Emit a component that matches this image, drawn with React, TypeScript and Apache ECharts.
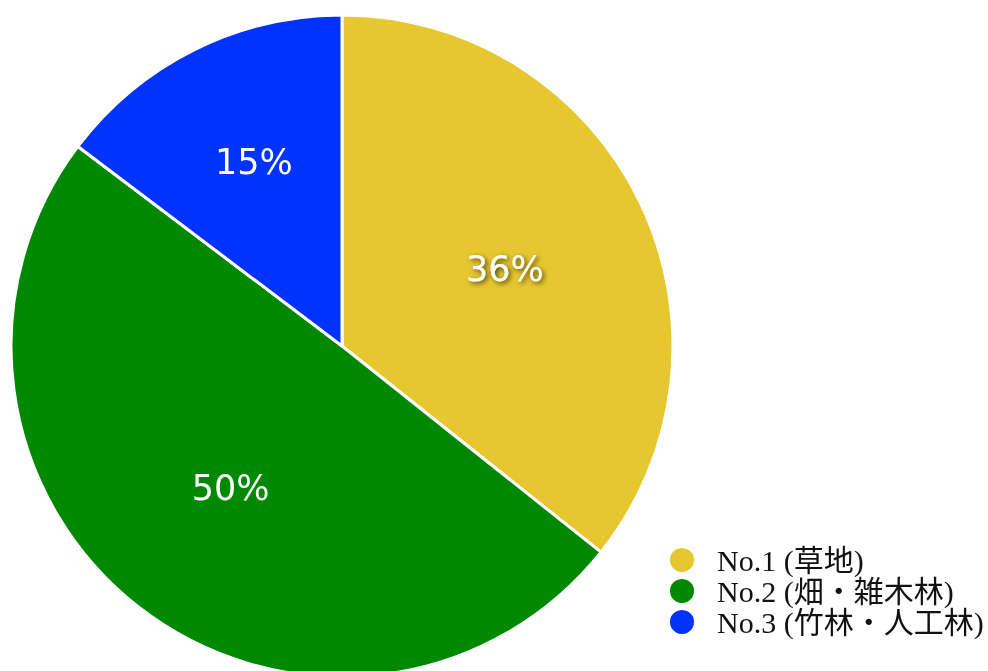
import React, { useEffect, useRef } from "react";
import * as echarts from "echarts";

const categories = ["No.1 (草地)", "No.2 (畑・雑木林)", "No.3 (竹林・人工林)"];
const values = [35.7, 49.6, 14.7];
const colors = ["#E6C730", "#008800", "#0033FF"];

export default function App() {
  const ref = useRef<HTMLDivElement>(null);
  useEffect(() => {
    if (!ref.current) return;
    const chart = echarts.init(ref.current, null, { renderer: "svg" });
    chart.setOption({
      animation: false,
      legend: {
        orient: "vertical",
        left: 668,
        top: 545,
        padding: 0,
        icon: "circle",
        itemWidth: 26,
        itemHeight: 26,
        itemGap: 1,
        data: categories,
        textStyle: {
          fontFamily: "'Liberation Serif', 'Noto Sans CJK JP', serif",
          fontSize: 30,
          lineHeight: 30,
          color: "#111",
          padding: [0, 0, 0, 17],
        },
      },
      series: [
        {
          type: "pie",
          center: [342, 346],
          radius: [0, 331],
          startAngle: 90,
          clockwise: true,
          itemStyle: { borderColor: "#fff", borderWidth: 3 },
          label: {
            position: "inside",
            color: "#fff",
            fontFamily: "'DejaVu Sans', sans-serif",
            fontSize: 35,
            formatter: (p: any) => Math.round(p.percent) + "%",
          },
          data: categories.map((name, i) => ({
            name,
            value: values[i],
            itemStyle: { color: colors[i] },
            label:
              i === 0
                ? {
                    offset: [11, -4],
                    textShadowColor: "rgba(0,0,0,0.7)",
                    textShadowBlur: 5,
                    textShadowOffsetX: 2,
                    textShadowOffsetY: 2,
                  }
                : i === 1
                ? { offset: [-8, 9] }
                : { offset: [-13, -33] },
          })),
        },
      ],
    });
    return () => chart.dispose();
  }, []);
  return (
    <div
      ref={ref}
      style={{ position: "fixed", left: 0, top: 0, width: 988, height: 671 }}
    />
  );
}
